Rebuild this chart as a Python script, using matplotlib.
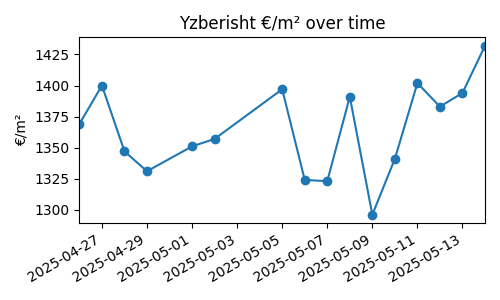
import matplotlib
matplotlib.use('Agg')
from matplotlib import pyplot as plt
import pandas as pd

#Data
dates = ['2025-04-26', '2025-04-27', '2025-04-28', '2025-04-29', '2025-05-01',
         '2025-05-02', '2025-05-05', '2025-05-06', '2025-05-07', '2025-05-08',
         '2025-05-09', '2025-05-10', '2025-05-11', '2025-05-12', '2025-05-13',
         '2025-05-14']
prices = [1369, 1400, 1347, 1331, 1351, 1357, 1397, 1324, 1323, 1391,
          1296, 1341, 1402, 1383, 1394, 1432]

x = pd.to_datetime(dates)

fig, ax = plt.subplots(figsize=(5, 3), dpi=100)
ax.plot(x, prices, marker='o')
ax.set_xlim(x[0], x[-1])
ax.set_title('Yzberisht €/m² over time')
ax.set_ylabel('€/m²')
fig.autofmt_xdate()
fig.tight_layout()
fig.savefig('out.png')
